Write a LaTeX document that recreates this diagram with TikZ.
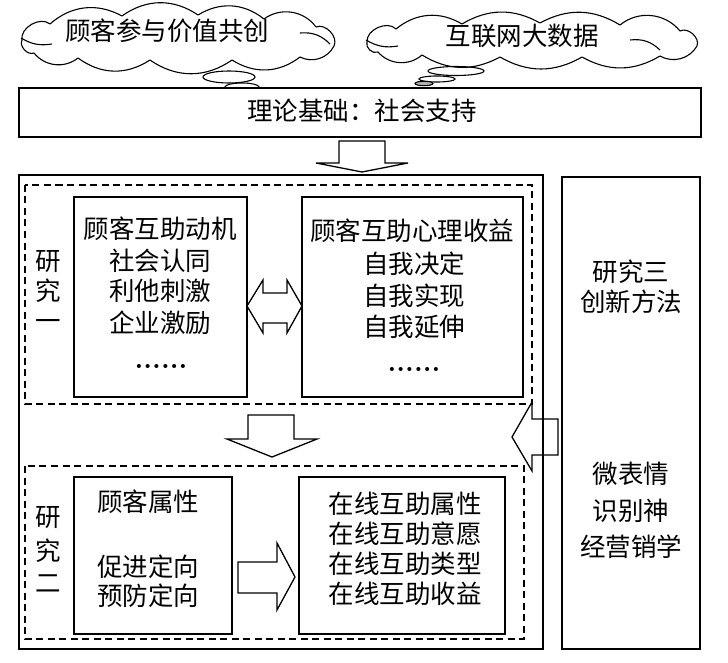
\documentclass[tikz,border=0pt]{standalone}
\usepackage{fontspec}
\newfontfamily\cjk{Noto Sans CJK SC}
\tikzset{
  box/.style={draw, line width=1.3pt, inner sep=0pt},
  dbox/.style={draw, line width=1.3pt, dash pattern=on 7pt off 4.5pt},
  blk/.style={draw, line width=1.3pt, line join=miter},
  txt/.style={inner sep=0pt, text height=0.88em, text depth=0.12em, font=\cjk\fontsize{25.5}{30}\selectfont},
  dots/.style={inner sep=0pt, anchor=base, font=\bfseries\fontsize{28}{30}\selectfont},
  cl/.style={draw, line width=1.1pt, line join=round},
  pf/.style={bend left=#1},
  bub/.style={draw, line width=1.1pt}
}
\begin{document}
\begin{tikzpicture}[x=1pt,y=-1pt]
\useasboundingbox (0,0) rectangle (728,663);
% cloud 1
\draw[cl] (22,40) to[pf=70] (50,24) to[pf=35] (122,16) to[pf=35] (198,15) to[pf=35] (264,19)
  to[pf=45] (316,27) to[pf=70] (334,46) to[pf=45] (300,57) to[pf=35] (232,60)
  to[pf=35] (150,60) to[pf=35] (78,58) to[pf=45] (34,53) to[pf=70] cycle;
\draw[cl] (21,38) to[bend right=20] (52,44);
\draw[cl] (300,33) to[bend left=25] (330,44);
\node[txt] (c1t) at (167,37) {顾客参与价值共创};
% cloud 2
\draw[cl] (367,42) to[pf=70] (396,29) to[pf=35] (462,24) to[pf=30] (540,23) to[pf=30] (620,25)
  to[pf=45] (680,31) to[pf=70] (697,46) to[pf=45] (660,56) to[pf=30] (582,57)
  to[pf=30] (500,57) to[pf=30] (422,55) to[pf=45] (378,52) to[pf=70] cycle;
\draw[cl] (366,40) to[bend right=20] (398,46);
\draw[cl] (630,40) to[bend left=25] (660,50);
\node[txt] (c2t) at (522,42) {互联网大数据};
\draw[bub] (229,77) ellipse [x radius=26, y radius=6];
\draw[bub] (242,87) ellipse [x radius=17, y radius=4];
\draw[bub, fill=gray!60] (250,92.5) ellipse [x radius=8, y radius=2.2];
\draw[bub] (456,71) ellipse [x radius=28, y radius=4.5];
\draw[bub] (437,79) ellipse [x radius=18, y radius=3];
\draw[bub, fill=gray!60] (424,83.5) ellipse [x radius=9, y radius=2.2];
% theory box
\node[box, fill=white, minimum width=682pt, minimum height=49pt] (th) at (360,112.5) {};
\node[txt] (tht) at (362,117) {理论基础：社会支持};
% arrow 1
\draw[blk] (339,141) -- (385,141) -- (385,163) -- (408,163) -- (362,172) -- (316,163) -- (339,163) -- cycle;
% outer box and right box
\node[box, minimum width=524pt, minimum height=474pt] (outer) at (281,412) {};
\node[box, minimum width=138pt, minimum height=472pt] (r3) at (631,413) {};
% dashed boxes
\draw[dbox] (25,185) rectangle (532,404);
\draw[dbox] (25,466) rectangle (524,639);
% study one
\node[box, minimum width=173pt, minimum height=200pt] (b1) at (160.5,297) {};
\node[box, minimum width=221pt, minimum height=200pt] (b2) at (412.5,297) {};
\node[txt] (s1a) at (48,267) {研};
\node[txt] (s1b) at (48,297) {究};
\node[txt] (s1c) at (48,327) {一};
\node[txt] (b1a) at (160,235) {顾客互助动机};
\node[txt] (b1b) at (160,267) {社会认同};
\node[txt] (b1c) at (160,297) {利他刺激};
\node[txt] (b1d) at (160,329) {企业激励};
\node[dots] (b1e) at (161,368.5) {......};
\node[txt] (b2a) at (412,237) {顾客互助心理收益};
\node[txt] (b2b) at (414,270) {自我决定};
\node[txt] (b2c) at (414,302) {自我实现};
\node[txt] (b2d) at (414,333) {自我延伸};
\node[dots] (b2e) at (414,371.5) {......};
% double arrow
\draw[blk] (247,306) -- (263,280) -- (263,293) -- (287,293) -- (287,280) -- (302,306) -- (287,333) -- (287,323) -- (263,323) -- (263,333) -- cycle;
% arrow 2
\draw[blk] (248,415) -- (294,415) -- (294,439) -- (317,439) -- (272,457) -- (227,439) -- (248,439) -- cycle;
% left arrow from study three
\draw[blk] (512,437) -- (532,402) -- (532,419) -- (558,419) -- (558,455) -- (532,455) -- (532,471) -- cycle;
% study two
\node[box, minimum width=158pt, minimum height=157pt] (b3) at (153,555.5) {};
\node[box, minimum width=206pt, minimum height=157pt] (b4) at (402,555.5) {};
\node[txt] (s2a) at (48,523) {研};
\node[txt] (s2b) at (48,557) {究};
\node[txt] (s2c) at (48,589) {二};
\node[txt] (b3a) at (148,508) {顾客属性};
\node[txt] (b3b) at (148,573) {促进定向};
\node[txt] (b3c) at (148,602) {预防定向};
\node[txt] (b4a) at (405,510) {在线互助属性};
\node[txt] (b4b) at (405,540) {在线互助意愿};
\node[txt] (b4c) at (405,570) {在线互助类型};
\node[txt] (b4d) at (405,600) {在线互助收益};
\draw[blk] (238,562) -- (277,562) -- (277,543) -- (295,577) -- (277,610) -- (277,593) -- (238,593) -- cycle;
% study three text
\node[txt] (r3a) at (631,278) {研究三};
\node[txt] (r3b) at (631,308) {创新方法};
\node[txt] (r3c) at (631,480) {微表情};
\node[txt] (r3d) at (631,517) {识别神};
\node[txt] (r3e) at (631,553) {经营销学};
\end{tikzpicture}
\end{document}
